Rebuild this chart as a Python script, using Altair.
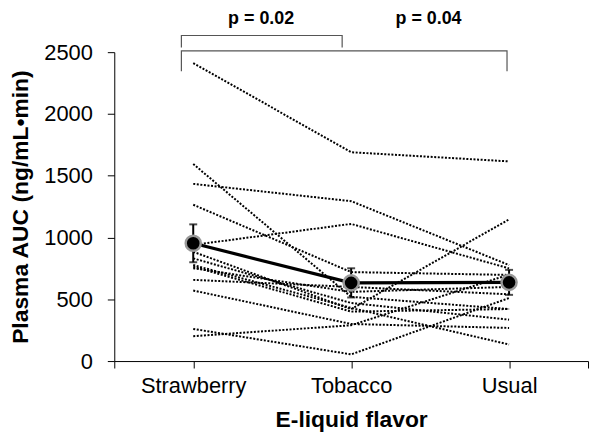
import altair as alt
import pandas as pd

# ---- data ----
flavors = ["Strawberry", "Tobacco", "Usual"]
strawberry = [2412, 1595, 1434, 1265, 940, 884, 831, 777, 764, 751, 657, 571, 260, 201]
tobacco = [1690, 520, 1294, 720, 1110, 420, 470, 430, 400, 560, 600, 300, 54, 290]
usual = [1616, 421, 777, 697, 750, 1147, 335, 134, 421, 600, 540, 268, 510, 700]

p_labels = ["p = 0.02", "p = 0.04"]
p_x = [0.43, 1.49]
p_y = [2771, 2771]

bracket1_x = [-0.075, -0.075, 0.943, 0.943]
bracket1_y = [2538, 2635, 2635, 2538]
bracket2_x = [-0.075, -0.075, 1.987, 1.987]
bracket2_y = [2345, 2511, 2511, 2345]

# ---- tables ----
rows = []
for i, vals in enumerate([strawberry, tobacco, usual]):
    for s, v in enumerate(vals):
        rows.append({"subject": s, "idx": i, "flavor": flavors[i], "value": v})
df = pd.DataFrame(rows)

br_rows = []
for b, (xs, ys) in enumerate([(bracket1_x, bracket1_y), (bracket2_x, bracket2_y)]):
    for k, (xx, yy) in enumerate(zip(xs, ys)):
        br_rows.append({"b": b, "k": k, "x": xx, "y": yy})
br = pd.DataFrame(br_rows)
pdf = pd.DataFrame({"label": p_labels, "x": p_x, "y": p_y})

FONT = "Liberation Sans"
label_expr = " : ".join(
    [f"datum.value == {i} ? '{f}'" for i, f in enumerate(flavors)]
) + " : ''"

xscale = alt.Scale(domain=[-0.5, 2.5], nice=False, zero=False)
yscale = alt.Scale(domain=[0, 2500], nice=False)

x_enc = alt.X(
    "idx:Q",
    scale=xscale,
    axis=alt.Axis(
        values=[-0.5, 0, 1, 2, 2.5],
        labelExpr=label_expr,
        title="E-liquid flavor",
        grid=False,
        tickSize=7,
        labelPadding=8,
        labelFontSize=22,
        labelFont=FONT,
        labelColor="black",
        titleFontSize=23,
        titleFont=FONT,
        titleFontWeight="bold",
        titleColor="black",
        titlePadding=12,
        domainColor="black",
        tickColor="black",
    ),
)
y_enc = alt.Y(
    "value:Q",
    scale=yscale,
    axis=alt.Axis(
        values=[0, 500, 1000, 1500, 2000, 2500],
        format="d",
        title="Plasma AUC (ng/mL•min)",
        grid=False,
        tickSize=7,
        labelPadding=15,
        labelFontSize=22,
        labelFont=FONT,
        labelColor="black",
        titleFontSize=23,
        titleFont=FONT,
        titleFontWeight="bold",
        titleColor="black",
        titlePadding=11,
        domainColor="black",
        tickColor="black",
    ),
)

base = alt.Chart(df)

subjects = base.mark_line(
    color="black", strokeWidth=2, strokeDash=[2, 1.6]
).encode(x=x_enc, y=y_enc, detail="subject:N")

mean_line = base.mark_line(color="black", strokeWidth=3.2).encode(
    x="idx:Q", y="mean(value):Q"
)

errbars = base.mark_errorbar(
    extent="stderr", color="black", thickness=2, ticks={"size": 8, "thickness": 2, "color": "black"}
).encode(x="idx:Q", y=alt.Y("value:Q", title="Plasma AUC (ng/mL•min)"))

mean_pts = base.mark_circle(
    color="black", stroke="#999999", strokeWidth=2.5, size=230, opacity=1
).encode(x="idx:Q", y="mean(value):Q")

brackets = alt.Chart(br).mark_line(color="#555555", strokeWidth=1.2).encode(
    x="x:Q", y="y:Q", detail="b:N", order="k:Q"
)

ptext = alt.Chart(pdf).mark_text(
    font=FONT, fontSize=18, fontWeight="bold", color="black", baseline="middle", align="center"
).encode(x="x:Q", y="y:Q", text="label:N")

chart = (
    alt.layer(subjects, mean_line, errbars, mean_pts, brackets, ptext)
    .properties(
        width=477,
        height=311,
        autosize=alt.AutoSizeParams(type="none"),
        padding={"left": 107, "top": 43, "right": 5, "bottom": 75},
    )
    .configure_view(stroke=None)
)

chart.save("out.html", embed_options={"renderer": "svg", "actions": False})
